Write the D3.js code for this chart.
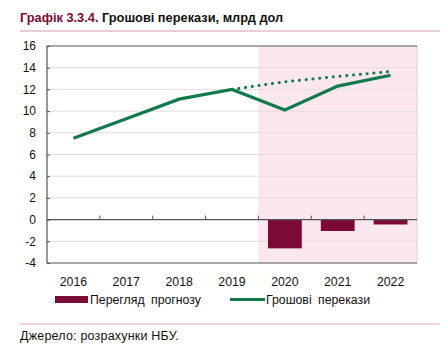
<!DOCTYPE html>
<html lang="uk">
<head>
<meta charset="UTF-8">
<script src="https://cdnjs.cloudflare.com/ajax/libs/d3/7.8.5/d3.min.js"></script>
<style>
    body { margin: 0; background: #fff; }
    svg { display: block; font-family: "Liberation Sans", Arial, sans-serif; }
</style>
</head>
<body>
<svg id="chart" width="448" height="352"></svg>
<script>
    const years = ["2016", "2017", "2018", "2019", "2020", "2021", "2022"];
    const remittances = [7.5, 9.3, 11.1, 12.0, 10.1, 12.3, 13.3];
    const prevForecastYears = ["2019", "2020", "2021", "2022"];
    const prevForecast = [12.0, 12.7, 13.2, 13.65];
    const revisionYears = ["2020", "2021", "2022"];
    const revision = [-2.65, -1.05, -0.45];
    const forecastYears = ["2020", "2021", "2022"];
    const yTicks = [-4, -2, 0, 2, 4, 6, 8, 10, 12, 14, 16];

    const green = "#137a4c", crimson = "#7b0a34";
    const svg = d3.select("#chart");
    const plotLeft = 47, plotRight = 417, plotTop = 46, plotBottom = 263;

    const x = d3.scaleBand().domain(years).range([plotLeft, plotRight]);
    const y = d3.scaleLinear().domain([-4, 16]).range([plotBottom, plotTop]);

    // title
    const title = svg.append("text").attr("x", 20).attr("y", 22)
        .attr("font-size", 12.8).attr("font-weight", "bold");
    title.append("tspan").attr("fill", crimson).text("Графік 3.3.4. ");
    title.append("tspan").attr("fill", "#111").text("Грошові перекази, млрд дол");
    svg.append("line").attr("x1", 20).attr("x2", 440).attr("y1", 31).attr("y2", 31)
        .attr("stroke", "#e3bcc8").attr("stroke-width", 1.5);

    // forecast shading
    svg.append("rect")
        .attr("x", x(forecastYears[0])).attr("y", plotTop)
        .attr("width", plotRight - x(forecastYears[0])).attr("height", plotBottom - plotTop)
        .attr("fill", "#fde7ee");

    // gridlines
    svg.append("g").selectAll("line").data(yTicks.filter(d => d !== 0 && d !== 16 && d !== -4)).join("line")
        .attr("x1", plotLeft).attr("x2", plotRight)
        .attr("y1", d => y(d)).attr("y2", d => y(d))
        .attr("stroke", "#e2dcdc").attr("stroke-width", 1);

    // bars
    svg.append("g").selectAll("rect").data(revision).join("rect")
        .attr("x", (d, i) => x(revisionYears[i]) + x.bandwidth() * 0.18)
        .attr("width", x.bandwidth() * 0.64)
        .attr("y", y(0))
        .attr("height", d => y(d) - y(0))
        .attr("fill", crimson);

    // frame
    svg.append("line").attr("x1", plotRight).attr("x2", plotRight).attr("y1", plotTop).attr("y2", plotBottom)
        .attr("stroke", "#d9d0d3");
    svg.append("path")
        .attr("d", `M${plotRight},${plotTop}H${plotLeft}V${plotBottom}H${plotRight}`)
        .attr("fill", "none").attr("stroke", "#555").attr("stroke-width", 1.2);

    // zero line with category ticks
    svg.append("line").attr("x1", plotLeft).attr("x2", plotRight).attr("y1", y(0)).attr("y2", y(0))
        .attr("stroke", "#555").attr("stroke-width", 1.2);
    svg.append("g").selectAll("line").data(years.slice(1)).join("line")
        .attr("x1", d => x(d)).attr("x2", d => x(d))
        .attr("y1", y(0)).attr("y2", y(0) - 4)
        .attr("stroke", "#555");

    // y axis
    const yAxis = svg.append("g").attr("transform", `translate(${plotLeft},0)`)
        .call(d3.axisRight(y).tickValues(yTicks).tickSize(3).tickFormat(""));
    yAxis.select(".domain").remove();
    yAxis.selectAll("line").attr("stroke", "#555");
    svg.append("g").selectAll("text").data(yTicks).join("text")
        .attr("x", 36).attr("y", d => y(d)).attr("dy", "0.35em")
        .attr("text-anchor", "end").attr("font-size", 12).attr("fill", "#111")
        .text(d => d);

    // x labels
    svg.append("g").selectAll("text").data(years).join("text")
        .attr("x", d => x(d) + x.bandwidth() / 2).attr("y", 286)
        .attr("text-anchor", "middle").attr("font-size", 12.3).attr("fill", "#111")
        .text(d => d);

    // lines
    const cx = d => x(d) + x.bandwidth() / 2;
    svg.append("path")
        .datum(prevForecast.map((v, i) => [prevForecastYears[i], v]))
        .attr("d", d3.line().x(d => cx(d[0])).y(d => y(d[1])))
        .attr("fill", "none").attr("stroke", green).attr("stroke-width", 3)
        .attr("stroke-linecap", "round").attr("stroke-dasharray", "0.1 6.7");
    svg.append("path")
        .datum(remittances.map((v, i) => [years[i], v]))
        .attr("d", d3.line().x(d => cx(d[0])).y(d => y(d[1])))
        .attr("fill", "none").attr("stroke", green).attr("stroke-width", 3.2)
        .attr("stroke-linejoin", "miter");

    // legend
    svg.append("rect").attr("x", 55).attr("y", 296).attr("width", 33).attr("height", 7).attr("fill", crimson);
    svg.append("text").attr("x", 90).attr("y", 304).attr("font-size", 12.3).attr("fill", "#111")
        .attr("word-spacing", 3).text("Перегляд прогнозу");
    svg.append("line").attr("x1", 230).attr("x2", 265).attr("y1", 299.5).attr("y2", 299.5)
        .attr("stroke", green).attr("stroke-width", 3);
    svg.append("text").attr("x", 266).attr("y", 304).attr("font-size", 12.3).attr("fill", "#111")
        .attr("word-spacing", 3).text("Грошові перекази");

    // source
    svg.append("line").attr("x1", 20).attr("x2", 440).attr("y1", 324).attr("y2", 324)
        .attr("stroke", "#e3a9b8").attr("stroke-width", 1.2);
    svg.append("text").attr("x", 20).attr("y", 340).attr("font-size", 12.5).attr("fill", "#111")
        .attr("letter-spacing", 0.2).text("Джерело: розрахунки НБУ.");
</script>
</body>
</html>
